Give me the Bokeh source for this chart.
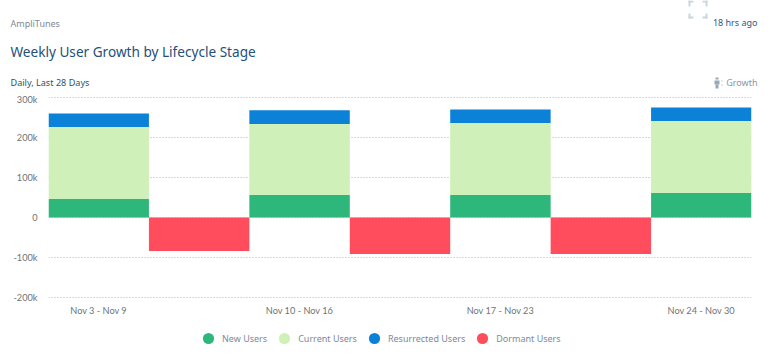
from bokeh.plotting import figure
from bokeh.layouts import column
from bokeh.models import ColumnDataSource, Label, Legend, LegendItem, BoxAnnotation, FixedTicker, FactorRange, Range1d
from bokeh.embed import file_html
from bokeh.resources import INLINE

weeks = ["Nov 3 - Nov 9", "Nov 10 - Nov 16", "Nov 17 - Nov 23", "Nov 24 - Nov 30"]
gaps = [" ", "  ", "   "]
new_users = [46000, 56000, 56000, 61000]
current_users = [180000, 178000, 180000, 180000]
resurrected_users = [34000, 34000, 34000, 34000]
dormant_users = [-84000, -91000, -91000]
y_ticks = [-200000, -100000, 0, 100000, 200000, 300000]
y_labels = ["-200k", "-100k", "0", "100k", "200k", "300k"]
series = ["New Users", "Current Users", "Resurrected Users", "Dormant Users"]
colors = ["#2DB77B", "#CFF0B9", "#0B82D8", "#FF4D5E"]

W = 771
HEAD_H, PLOT_H, LEG_H = 93, 231, 30


def bare_figure(height):
    f = figure(width=W, height=height, output_backend="svg", toolbar_location=None,
               x_range=Range1d(0, 1), y_range=Range1d(0, 1),
               x_axis_location=None, y_axis_location=None, frame_align=False,
               min_border_left=0, min_border_right=0,
               min_border_top=0, min_border_bottom=0)
    f.outline_line_color = None
    f.grid.visible = False
    return f


# header: title texts and icons
head = bare_figure(HEAD_H)


def label(text, x, y, size, color, font="Noto Sans", align="left"):
    head.add_layout(Label(x=x, y=y, x_units="canvas", y_units="canvas", text=text,
                          text_font=font, text_font_size=size, text_color=color,
                          text_align=align, text_baseline="middle"))


def box(x0, x1, y0, y1, color):
    head.add_layout(BoxAnnotation(left=x0, right=x1, top=y0, bottom=y1,
                                  left_units="canvas", right_units="canvas",
                                  top_units="canvas", bottom_units="canvas",
                                  fill_color=color, fill_alpha=1, line_color=None))


label("AmpliTunes", 10, 23, "9px", "#7f8a94")
label("Weekly User Growth by Lifecycle Stage", 10, 51, "13.6px", "#24507a")
label("Daily, Last 28 Days", 10, 82, "9.1px", "#34506c")
label("18 hrs ago", 757, 22, "9px", "#2c5a85", align="right")
label("Growth", 757, 82, "9px", "#8a97a5", align="right")

ic = "#ccd5de"
box(688, 690, 0, 6, ic); box(688, 693, 0, 2, ic)
box(705, 707, 0, 6, ic); box(702, 707, 0, 2, ic)
box(688, 690, 13, 18, ic); box(688, 693, 16, 18, ic)
box(705, 707, 13, 18, ic); box(702, 707, 16, 18, ic)
g = "#9aa7b4"
box(715, 718, 77, 79, g); box(714, 719, 80, 84, g); box(715, 718, 84, 88, g)
box(721, 722, 80, 81, g); box(721, 722, 84, 85, g)

# main chart
factors = [weeks[0], gaps[0], weeks[1], gaps[1], weeks[2], gaps[2], weeks[3]]
p = figure(width=W, height=PLOT_H, output_backend="svg", toolbar_location=None,
           x_range=FactorRange(factors=factors, factor_padding=0, range_padding=0),
           y_range=Range1d(-210000, 310000), frame_align=False,
           min_border_left=48, min_border_right=20, min_border_top=0, min_border_bottom=23)
p.outline_line_color = None

source = ColumnDataSource(dict(week=weeks, n=new_users, c=current_users, r=resurrected_users))
p.vbar_stack(["n", "c", "r"], x="week", width=1.0, color=colors[:3], source=source, line_color=None)
p.vbar(x=gaps, top=dormant_users, bottom=0, width=1.0, color=colors[3], line_color=None)

p.xgrid.visible = False
p.ygrid.ticker = FixedTicker(ticks=y_ticks)
p.ygrid.grid_line_color = "#b5b5b5"
p.ygrid.grid_line_dash = "1 2"
p.ygrid.grid_line_width = 1

p.yaxis.ticker = FixedTicker(ticks=y_ticks)
p.yaxis.major_label_overrides = dict(zip(y_ticks, y_labels))
for ax in (p.xaxis[0], p.yaxis[0]):
    ax.axis_line_color = None
    ax.major_tick_line_color = None
    ax.minor_tick_line_color = None
    ax.major_tick_out = 0
    ax.major_label_text_font = "Lato"
    ax.major_label_text_font_size = "9.2px"
    ax.major_label_text_color = "#6f7376"
p.yaxis.major_label_standoff = 11
p.xaxis.major_label_standoff = 3

# legend strip
leg = bare_figure(LEG_H)
items = []
for name, col in zip(series, colors):
    r = leg.scatter(x=[0.5], y=[float("nan")], marker="circle", size=11, color=col, line_color=None)
    items.append(LegendItem(label=name, renderers=[r]))
leg.add_layout(Legend(items=items, orientation="horizontal", location=(194, 2),
                      border_line_color=None, background_fill_alpha=0,
                      label_text_font="Noto Sans", label_text_font_size="9px",
                      label_text_color="#7d8a99", glyph_width=28, glyph_height=28,
                      label_standoff=-1, spacing=3, padding=0, margin=0))

page = column(head, p, leg, spacing=0)
open("out.html", "w").write(file_html(page, INLINE))
